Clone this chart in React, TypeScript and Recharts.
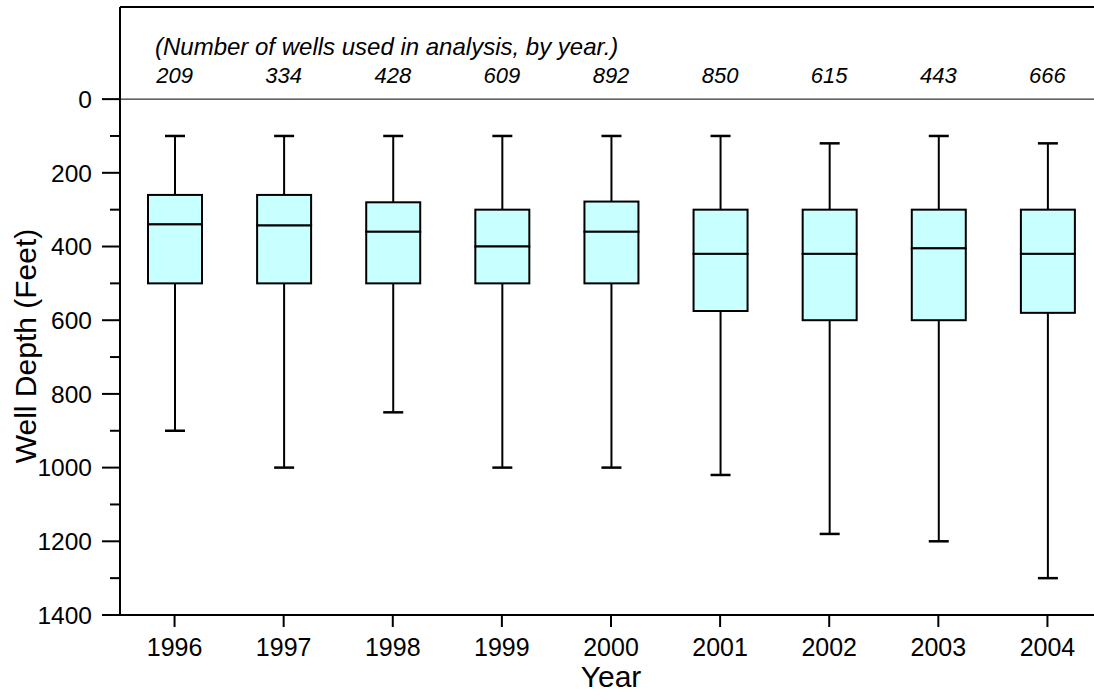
import { BarChart, Bar, XAxis, YAxis, ReferenceLine, Label, Customized } from 'recharts';

const years = ['1996', '1997', '1998', '1999', '2000', '2001', '2002', '2003', '2004'];
const wellCounts = [209, 334, 428, 609, 892, 850, 615, 443, 666];
const whiskerLow = [100, 100, 100, 100, 100, 100, 120, 100, 120];
const q1 = [260, 260, 280, 300, 278, 300, 300, 300, 300];
const median = [340, 343, 360, 400, 360, 420, 420, 405, 420];
const q3 = [500, 500, 500, 500, 500, 575, 600, 600, 580];
const whiskerHigh = [900, 1000, 850, 1000, 1000, 1020, 1180, 1200, 1300];
const depthTicks = [0, 100, 200, 300, 400, 500, 600, 700, 800, 900, 1000, 1100, 1200, 1300, 1400];

// stacked segments: invisible base, upper whisker, two box halves, lower whisker
const data = years.map((year, i) => ({
  year,
  count: wellCounts[i],
  base: whiskerLow[i],
  wTop: q1[i] - whiskerLow[i],
  boxA: median[i] - q1[i],
  boxB: q3[i] - median[i],
  wBot: whiskerHigh[i] - q3[i],
}));

const FONT = '"Liberation Sans", Arial, sans-serif';
const BOX_FILL = '#c8ffff';

const span = (p: any) => {
  const top = Math.min(p.y, p.y + p.height);
  const bottom = Math.max(p.y, p.y + p.height);
  return { top, bottom, cx: p.x + p.width / 2 };
};

const whisker = (end: 'top' | 'bottom') => (p: any) => {
  const { top, bottom, cx } = span(p);
  const capY = end === 'top' ? top : bottom;
  return (
    <g>
      <line x1={cx} x2={cx} y1={top} y2={bottom} stroke="#000" strokeWidth={2} />
      <line x1={cx - 10} x2={cx + 10} y1={capY} y2={capY} stroke="#000" strokeWidth={2.5} />
    </g>
  );
};

const BoxHalf = (p: any) => {
  const { top, bottom } = span(p);
  return <rect x={p.x} y={top} width={p.width} height={bottom - top} fill={BOX_FILL} stroke="#000" strokeWidth={2} />;
};

const DepthTick = (p: any) => {
  const v = p.payload.value;
  const major = v % 200 === 0;
  return (
    <g>
      <line x1={p.x - (major ? 18 : 10)} x2={p.x} y1={p.y} y2={p.y} stroke="#000" strokeWidth={2} />
      {major && (
        <text x={p.x - 28} y={p.y} dy="0.36em" textAnchor="end" fontFamily={FONT} fontSize={24.5} fill="#000">
          {v}
        </text>
      )}
    </g>
  );
};

const YearTick = (p: any) => (
  <text x={p.x} y={p.y} dy={29} textAnchor="middle" fontFamily={FONT} fontSize={25} fill="#000">
    {p.payload.value}
  </text>
);

const CountTick = (p: any) => (
  <text x={p.x} y={83} textAnchor="middle" fontFamily={FONT} fontSize={22} fontStyle="italic" fill="#000">
    {p.payload.value}
  </text>
);

const Note = () => (
  <text x={155} y={55} fontFamily={FONT} fontSize={24} fontStyle="italic" fill="#000">
    (Number of wells used in analysis, by year.)
  </text>
);

export default function App() {
  return (
    <div style={{ position: 'absolute', left: 0, top: 0, width: 1094, height: 692, overflow: 'hidden', background: '#fff' }}>
      <BarChart width={1110} height={692} data={data} margin={{ top: 0, right: 8, bottom: 0, left: 0 }} barSize={54}>
        <XAxis
          dataKey="year"
          height={77}
          tickSize={12}
          tickMargin={0}
          tickLine={{ stroke: '#000', strokeWidth: 2 }}
          axisLine={{ stroke: '#000', strokeWidth: 2 }}
          tick={YearTick}
          interval={0}
        >
          <Label
            content={(props: any) => (
              <text x={props.viewBox.x + props.viewBox.width / 2} y={687} textAnchor="middle" fontFamily={FONT} fontSize={30} fill="#000">
                Year
              </text>
            )}
          />
        </XAxis>
        <XAxis
          xAxisId="top"
          dataKey="count"
          orientation="top"
          height={7}
          tickSize={0}
          tickMargin={0}
          tickLine={false}
          axisLine={{ stroke: '#000', strokeWidth: 2 }}
          tick={CountTick}
          interval={0}
        />
        <YAxis
          type="number"
          width={120}
          reversed
          domain={[-250, 1400]}
          ticks={depthTicks}
          interval={0}
          tickSize={0}
          tickMargin={0}
          tickLine={false}
          axisLine={{ stroke: '#000', strokeWidth: 2 }}
          tick={DepthTick}
          allowDataOverflow
        >
          <Label
            content={() => (
              <text transform="translate(36, 346) rotate(-90)" textAnchor="middle" fontFamily={FONT} fontSize={30} fill="#000">
                Well Depth (Feet)
              </text>
            )}
          />
        </YAxis>
        <ReferenceLine y={0} stroke="#000" strokeWidth={1} />
        <Bar dataKey="base" stackId="box" shape={() => <g />} isAnimationActive={false} />
        <Bar dataKey="wTop" stackId="box" shape={whisker('top')} isAnimationActive={false} />
        <Bar dataKey="boxA" stackId="box" shape={BoxHalf} isAnimationActive={false} />
        <Bar dataKey="boxB" stackId="box" shape={BoxHalf} isAnimationActive={false} />
        <Bar dataKey="wBot" stackId="box" shape={whisker('bottom')} isAnimationActive={false} />
        <Customized component={Note} />
      </BarChart>
    </div>
  );
}
